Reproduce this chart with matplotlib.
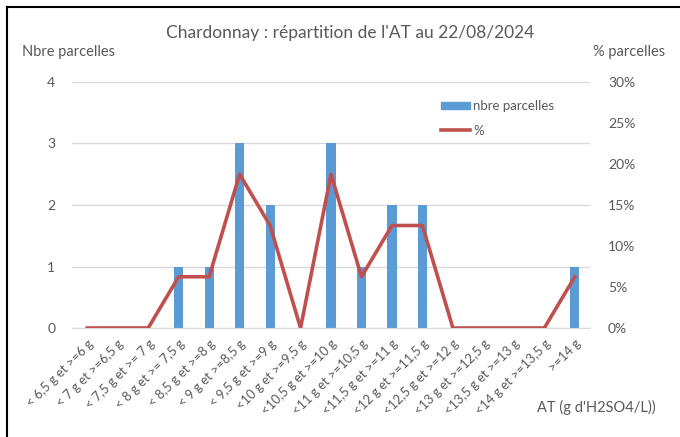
import numpy as np
import matplotlib.pyplot as plt
from matplotlib.lines import Line2D

plt.rcParams['font.family'] = ['Lato', 'DejaVu Sans']

classes = ["< 6,5 g et >=6 g", "< 7 g et >=6,5 g", "< 7,5 g et >= 7 g",
           "< 8 g et >= 7,5 g", "< 8,5 g et >=8 g", "< 9 g et >=8,5 g",
           "< 9,5 g et >=9 g", "<10 g et >=9,5 g", "<10,5 g et >=10 g",
           "<11 g et >=10,5 g", "<11,5 g et >=11 g", "<12 g et >=11,5 g",
           "<12,5 g et >=12 g", "<13 g et >=12,5 g", "<13,5 g et >=13 g",
           "<14 g et >=13,5 g", ">=14 g"]
nbre = [0, 0, 0, 1, 1, 3, 2, 0, 3, 1, 2, 2, 0, 0, 0, 0, 1]
pct = [n / sum(nbre) for n in nbre]

blue = "#5B9BD5"
red = "#C0504D"
grey = "#595959"

fig = plt.figure(figsize=(6.8, 4.37), dpi=100)
ax = fig.add_axes([0.1059, 0.2494, 0.7618, 0.563])
x = np.arange(len(classes))
ax.bar(x, nbre, width=0.3, color=blue, zorder=2, label="nbre parcelles")
ax.set_ylim(0, 4)
ax.set_xlim(-0.5, len(classes) - 0.5)
ax.set_yticks([0, 1, 2, 3, 4])
ax.grid(axis='y', color="#D9D9D9", linewidth=1, zorder=0)
for s in ['top', 'right', 'left']:
    ax.spines[s].set_visible(False)
ax.spines['bottom'].set_color("#D9D9D9")
ax.tick_params(axis='y', length=0, pad=12, labelsize=10, labelcolor=grey)
ax.tick_params(axis='x', length=0, pad=7, labelsize=9.3, labelcolor=grey)
ax.set_xticks(x)
ax.set_xticklabels(classes, rotation=45, ha='right', va='top', rotation_mode='anchor')

ax2 = ax.twinx()
ax2.plot(x, pct, color=red, linewidth=2.6, zorder=3)
ax2.set_ylim(0, 0.30)
ax2.set_yticks(np.arange(0, 0.31, 0.05))
ax2.set_yticklabels([f"{int(round(v * 100))}%" for v in np.arange(0, 0.31, 0.05)])
for s in ['top', 'right', 'left', 'bottom']:
    ax2.spines[s].set_visible(False)
ax2.tick_params(axis='y', length=0, pad=13, labelsize=10, labelcolor=grey)

handles = [plt.Rectangle((0, 0), 1, 1, color=blue), Line2D([0], [0], color=red, linewidth=2.6)]
ax2.legend(handles, ["nbre parcelles", "%"], loc='upper left', bbox_to_anchor=(0.69, 0.975),
           frameon=False, fontsize=9.5, labelcolor=grey, handlelength=2.2,
           handleheight=0.5, handletextpad=0.2, labelspacing=0.95)

fig.text(0.515, 0.925, "Chardonnay : répartition de l'AT au 22/08/2024", ha='center', va='center',
         fontsize=12.5, color=grey)
fig.text(0.032, 0.88, "Nbre parcelles", ha='left', va='center', fontsize=10.5, color=grey)
fig.text(0.872, 0.88, "% parcelles", ha='left', va='center', fontsize=10.5, color=grey)
fig.text(0.79, 0.068, "AT (g d'H2SO4/L))", ha='left', va='center', fontsize=10.5, color=grey)

fig.add_artist(Line2D([0.010, 1.0], [0.984, 0.984], color='black', linewidth=1.5))
fig.add_artist(Line2D([0.010, 0.010], [0.0, 0.984], color='black', linewidth=1.5))

fig.savefig("out.png", dpi=100)
